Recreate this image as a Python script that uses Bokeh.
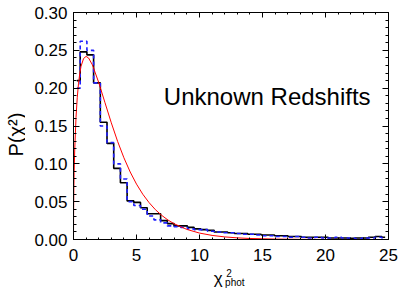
import numpy as np
from bokeh.plotting import figure
from bokeh.layouts import row, column
from bokeh.models import (Range1d, LinearAxis, FixedTicker, PrintfTickFormatter,
                          Label, ColumnDataSource)
from bokeh.core.properties import value
from bokeh.embed import file_html
from bokeh.resources import INLINE

# ---------------- data ----------------
n_bins = 47
x_max = 25.0
y_max = 0.30
bin_width = x_max / n_bins

black_hist = [0.210, 0.248, 0.244, 0.207, 0.155, 0.127, 0.094, 0.075, 0.051, 0.049,
              0.042, 0.034, 0.034, 0.025, 0.021, 0.018, 0.018, 0.016, 0.014, 0.013,
              0.012, 0.010, 0.010, 0.009, 0.008, 0.008, 0.007, 0.007, 0.006, 0.006,
              0.005, 0.005, 0.004, 0.004, 0.003, 0.003, 0.003, 0.003, 0.002, 0.002,
              0.002, 0.0015, 0.002, 0.002, 0.003, 0.004, 0.003]

blue_hist = [0.200, 0.262, 0.250, 0.207, 0.150, 0.128, 0.100, 0.080, 0.050, 0.045,
             0.040, 0.031, 0.026, 0.022, 0.018, 0.017, 0.016, 0.014, 0.013, 0.013,
             0.011, 0.010, 0.009, 0.009, 0.008, 0.007, 0.007, 0.006, 0.005, 0.005,
             0.004, 0.004, 0.003, 0.004, 0.003, 0.002, 0.003, 0.002, 0.002, 0.003,
             0.002, 0.002, 0.001, 0.002, 0.002, 0.003, 0.002]

red_x = [0.0, 0.01, 0.03, 0.05, 0.1, 0.2, 0.3, 0.4, 0.5, 0.6, 0.8, 1.0, 1.2, 1.5,
         2.0, 2.5, 3.0, 3.5, 4.0, 4.5, 5.0, 5.5, 6.0, 6.5, 7.0, 7.5, 8.0, 9.0, 10.0,
         11.0, 12.0, 13.0, 14.0, 16.0, 18.0, 20.0, 22.0, 25.0]
red_y = [0.0, 0.0397, 0.068, 0.0883, 0.120, 0.1614, 0.188, 0.2066, 0.2197, 0.229,
         0.2392, 0.2420, 0.2398, 0.2308, 0.2076, 0.1807, 0.1542, 0.1297, 0.1080,
         0.0892, 0.0732, 0.0598, 0.0487, 0.0394, 0.0319, 0.0257, 0.0207, 0.0133,
         0.0085, 0.00541, 0.00343, 0.00216, 0.00136, 0.00054, 0.00021, 0.00008,
         0.00003, 0.00001]

x_major_ticks = [0, 5, 10, 15, 20, 25]
x_minor_ticks = [i for i in range(0, 26) if i % 5 != 0]
y_major_ticks = [0.00, 0.05, 0.10, 0.15, 0.20, 0.25, 0.30]
y_minor_ticks = [round(0.01 * i, 2) for i in range(0, 31) if i % 5 != 0]

title_text = "Unknown Redshifts"
ylabel_text = "P(χ²)"

bin_centers = (np.arange(n_bins) + 0.5) * bin_width

FONT = "Liberation Sans"

# ---------------- main figure ----------------
p = figure(width=374, height=265, x_range=Range1d(0, x_max), y_range=Range1d(0, y_max),
           output_backend="svg", toolbar_location=None,
           min_border_left=48, min_border_right=11, min_border_top=12, min_border_bottom=26)
p.grid.visible = False
p.outline_line_color = "black"
p.outline_line_width = 1
p.background_fill_color = "white"
p.border_fill_color = "white"

xt = FixedTicker(ticks=x_major_ticks, minor_ticks=x_minor_ticks)
yt = FixedTicker(ticks=y_major_ticks, minor_ticks=y_minor_ticks)

for ax in p.xaxis:
    ax.ticker = xt
    ax.major_tick_in = 5
    ax.major_tick_out = 0
    ax.minor_tick_in = 2
    ax.minor_tick_out = 0
    ax.major_label_text_font = FONT
    ax.major_label_text_font_size = "17px"
    ax.major_label_text_color = "black"
    ax.major_label_standoff = 9
    ax.axis_line_color = "black"

for ax in p.yaxis:
    ax.ticker = yt
    ax.formatter = PrintfTickFormatter(format="%.2f")
    ax.major_tick_in = 6
    ax.major_tick_out = 0
    ax.minor_tick_in = 3
    ax.minor_tick_out = 0
    ax.major_label_text_font = FONT
    ax.major_label_text_font_size = "17px"
    ax.major_label_text_color = "black"
    ax.major_label_standoff = 6
    ax.axis_line_color = "black"

top_ax = LinearAxis(ticker=xt, major_tick_in=5, major_tick_out=0, minor_tick_in=2,
                    minor_tick_out=0, major_label_standoff=0, axis_line_color="black",
                    major_label_overrides={t: "" for t in x_major_ticks})
right_ax = LinearAxis(ticker=yt, major_tick_in=6, major_tick_out=0, minor_tick_in=3,
                      minor_tick_out=0, major_label_standoff=0, axis_line_color="black",
                      major_label_overrides={t: "" for t in y_major_ticks})
p.add_layout(top_ax, "above")
p.add_layout(right_ax, "right")

src_b = ColumnDataSource(dict(x=bin_centers, y=black_hist))
src_u = ColumnDataSource(dict(x=bin_centers, y=blue_hist))
p.step("x", "y", source=src_b, mode="center", line_color="black", line_width=1.6)
p.step("x", "y", source=src_u, mode="center", line_color="#1f1fff", line_width=1.6,
       line_dash="4 3")
p.line(red_x, red_y, line_color="#ff0000", line_width=1.0)

p.add_layout(Label(x=7.17, y=0.1895, text=title_text, text_font=FONT,
                   text_font_size="24px", text_color="black",
                   text_align="left", text_baseline="alphabetic"))

# ---------------- x-axis title strip (below), sharing the x scale ----------------
xl = figure(width=374, height=24, x_range=p.x_range, y_range=Range1d(0, 24),
            x_axis_type=None, y_axis_type=None,
            output_backend="svg", toolbar_location=None,
            min_border_left=48, min_border_right=11, min_border_top=0, min_border_bottom=0)
xl.grid.visible = False
xl.outline_line_color = None
xl.text(x=[11.13], y=[11.5], text=["χ"], text_font=value(FONT), text_font_size="17px",
        text_align="left", text_baseline="alphabetic", text_color="black")
xl.text(x=[12.13], y=[16.3], text=["2"], text_font=value(FONT), text_font_size="10px",
        text_align="left", text_baseline="alphabetic", text_color="black")
xl.text(x=[12.03], y=[7.0], text=["phot"], text_font=value(FONT), text_font_size="10px",
        text_align="left", text_baseline="alphabetic", text_color="black")

# ---------------- y-axis title strip (left) ----------------
yl = figure(width=25, height=289, x_range=Range1d(0, 25), y_range=Range1d(289, 0),
            x_axis_type=None, y_axis_type=None,
            output_backend="svg", toolbar_location=None,
            min_border_left=0, min_border_right=0, min_border_top=0, min_border_bottom=0)
yl.grid.visible = False
yl.outline_line_color = None
yl.text(x=[15], y=[134], text=[ylabel_text], text_font=value(FONT), text_font_size="20px",
        angle=np.pi / 2, text_align="center", text_baseline="middle", text_color="black")

layout = row(yl, column(p, xl))
open("out.html", "w").write(file_html(layout, INLINE))
